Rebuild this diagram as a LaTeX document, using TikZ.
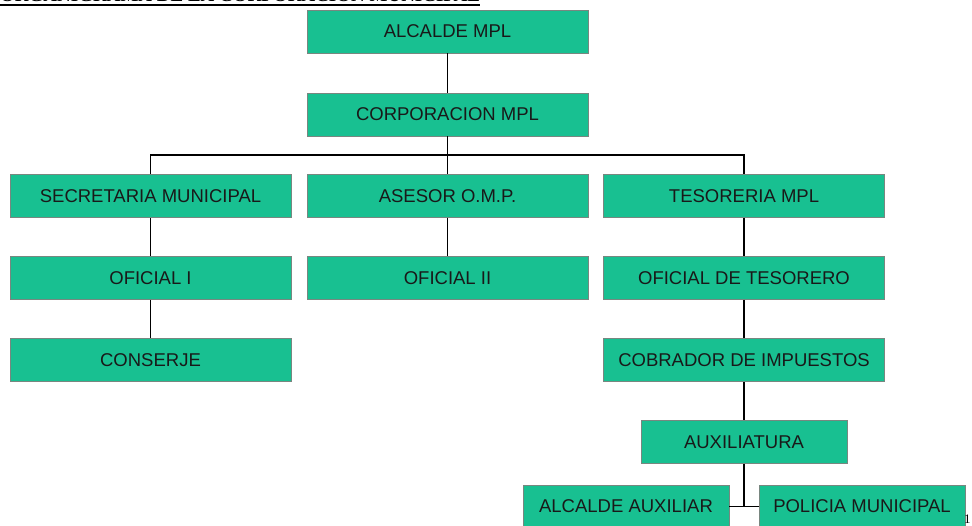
\documentclass[tikz,border=0pt]{standalone}
\usepackage{fontspec}
\setmainfont{Liberation Serif}
\newfontfamily\boxfont{Liberation Sans}
\definecolor{cajaverde}{RGB}{24,192,145}
\definecolor{bordecaja}{RGB}{120,135,128}

\begin{document}
\begin{tikzpicture}[
    x=1pt, y=-1pt,
    cargo/.style={
        rectangle,
        draw=bordecaja,
        fill=cajaverde,
        line width=0.8pt,
        minimum width=281pt,
        minimum height=43pt,
        inner sep=0pt,
        font=\boxfont\fontsize{18.5}{20}\selectfont,
        text=black!90
    },
    cargochico/.style={cargo, minimum width=206pt},
    linea/.style={line width=1.2pt, black}
]
\useasboundingbox (0,0) rectangle (972,525);

% Title (cut at the top of the page)
\node[font=\bfseries\fontsize{19}{20}\selectfont, anchor=base west, inner sep=0pt]
    (titulo) at (0,1.5) {ORGANIGRAMA DE LA CORPORACION MUNICIPAL};
\draw[line width=2pt] ([yshift=-3pt]titulo.base west) -- ([yshift=-3pt]titulo.base east);

% Top of the chart
\node[cargo] (alcalde) at (447.5, 31.5) {ALCALDE MPL};
\node[cargo] (corp) at (447.5, 114.5) {CORPORACION MPL};

% Third row
\node[cargo] (secre) at (150.5, 196) {SECRETARIA MUNICIPAL};
\node[cargo] (asesor) at (447.5, 196) {ASESOR O.M.P.};
\node[cargo] (teso) at (744, 196) {TESORERIA MPL};

% Fourth row
\node[cargo] (ofi1) at (150.5, 278) {OFICIAL I};
\node[cargo] (ofi2) at (447.5, 278) {OFICIAL II};
\node[cargo] (ofiteso) at (744, 278) {OFICIAL DE TESORERO};

% Fifth row
\node[cargo] (conserje) at (150.5, 360) {CONSERJE};
\node[cargo] (cobrador) at (744, 360) {COBRADOR DE IMPUESTOS};

% Auxiliatura and its branches
\node[cargochico] (auxi) at (744, 442) {AUXILIATURA};
\node[cargochico] (alcaux) at (626, 506.5) {ALCALDE AUXILIAR};
\node[cargochico] (policia) at (862, 506.5) {POLICIA MUNICIPAL};

% Footnote mark
\node[font=\fontsize{13}{14}\selectfont, anchor=base west, inner sep=0pt] (nota) at (964, 523.5) {1};

% Connectors
\coordinate (barra) at (447.5, 155);
\coordinate (junta) at (744, 506.5);
\draw[linea] (alcalde) -- (corp);
\draw[linea] (corp) -- (asesor);
\draw[linea] (secre.north) |- (barra) -| (teso.north);
\draw[linea] (secre) -- (ofi1);
\draw[linea] (ofi1) -- (conserje);
\draw[linea] (asesor) -- (ofi2);
\draw[linea] (teso) -- (ofiteso);
\draw[linea] (ofiteso) -- (cobrador);
\draw[linea] (cobrador) -- (auxi);
\draw[linea] (auxi) -- (junta);
\draw[linea] (alcaux) -- (junta) -- (policia);

\end{tikzpicture}
\end{document}
